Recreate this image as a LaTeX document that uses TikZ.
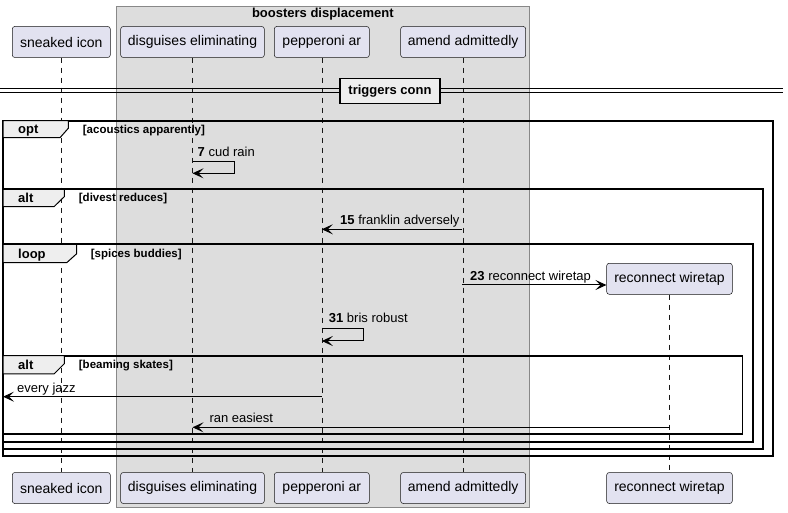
\documentclass[tikz,border=0pt]{standalone}
\usepackage{fontspec}
\setmainfont{Liberation Sans}
\usetikzlibrary{arrows.meta}
\definecolor{partfill}{HTML}{E2E2F0}
\definecolor{partline}{HTML}{181818}
\definecolor{boxfill}{HTML}{DDDDDD}
\definecolor{boxline}{HTML}{888888}
\definecolor{tabfill}{HTML}{EEEEEE}
\begin{document}
\begin{tikzpicture}[x=1pt,y=-1pt,
  part/.style={draw=partline, line width=0.5pt, fill=partfill, rounded corners=2.5pt,
    inner sep=0pt, minimum height=31pt, font=\fontsize{14}{16}\selectfont},
  life/.style={draw=partline, line width=0.5pt, dash pattern=on 5pt off 5pt},
  msg/.style={draw=black, line width=1pt, -{Stealth[length=11pt,width=10pt,inset=5pt]}},
  msgtxt/.style={inner sep=0pt, anchor=base west, font=\fontsize{13}{15}\selectfont},
  frameline/.style={draw=black, line width=1.8pt},
  tabtxt/.style={inner sep=0pt, anchor=base west, font=\fontsize{13}{15}\selectfont\bfseries},
  condtxt/.style={inner sep=0pt, anchor=base west, font=\fontsize{11.5}{13}\selectfont\bfseries}
]
\useasboundingbox (0,0) rectangle (788,513);
\fill[white] (0,0) rectangle (788,513);

% group box
\draw[fill=boxfill, draw=boxline, line width=0.5pt] (116.3,6) rectangle (529.3,507.7);
\node[inner sep=0pt, font=\fontsize{13}{15}\selectfont\bfseries] (boxtitle) at (322.8,14.5) {boosters displacement};

% participants top
\node[part, minimum width=98pt] (si) at (61.3,42) {sneaked icon};
\node[part, minimum width=143.6pt] (de) at (192.5,42) {disguises eliminating};
\node[part, minimum width=95pt] (pa) at (321.8,42) {pepperoni ar};
\node[part, minimum width=125pt] (aa) at (463.2,42) {amend admittedly};
% participants bottom
\node[part, minimum width=98pt] (si2) at (61.3,488) {sneaked icon};
\node[part, minimum width=143.6pt] (de2) at (192.5,488) {disguises eliminating};
\node[part, minimum width=95pt] (pa2) at (321.8,488) {pepperoni ar};
\node[part, minimum width=125pt] (aa2) at (463.2,488) {amend admittedly};
\node[part, minimum width=125.6pt] (rw2) at (669.5,488) {reconnect wiretap};
% created participant
\node[part, minimum width=125.6pt] (rw) at (669.5,278.8) {reconnect wiretap};

% lifelines
\draw[life] (si.south) -- (si2.north);
\draw[life] (de.south) -- (de2.north);
\draw[life] (pa.south) -- (pa2.north);
\draw[life] (aa.south) -- (aa2.north);
\draw[life] (rw.south) -- (rw2.north);

% divider
\coordinate (dl) at (0,90.7);
\coordinate (dr) at (783,90.7);
\draw[line width=1pt] ([yshift=-2pt]dl) -- ([yshift=-2pt]dr);
\draw[line width=1pt] ([yshift=2pt]dl) -- ([yshift=2pt]dr);
\node[draw=black, line width=1.8pt, fill=tabfill, minimum width=100pt, minimum height=25pt,
  inner sep=0pt, font=\fontsize{13}{15}\selectfont\bfseries] (div) at (390,91) {triggers conn};

% frames
% opt
\draw[frameline] (3,120.7) rectangle (773,456);
\draw[line width=1pt, fill=tabfill] (3,120.7) -- (68.3,120.7) -- (68.3,128.3) -- (60,137.7) -- (3,137.7) -- cycle;
\node[tabtxt] (optl) at (18,133.5) {opt};
\node[condtxt] (optc) at (82.7,133.5) {[acoustics apparently]};
% alt divest
\draw[frameline] (3,189.3) rectangle (762.7,449);
\draw[line width=1pt, fill=tabfill] (3,189.3) -- (64.3,189.3) -- (64.3,196.7) -- (54,206.7) -- (3,206.7) -- cycle;
\node[tabtxt] (alt1l) at (18,202.5) {alt};
\node[condtxt] (alt1c) at (78.7,201.5) {[divest reduces]};
% loop
\draw[frameline] (3,244.3) rectangle (752.7,441.7);
\draw[line width=1pt, fill=tabfill] (3,244.3) -- (76.7,244.3) -- (76.7,253.7) -- (66.7,262.7) -- (3,262.7) -- cycle;
\node[tabtxt] (loopl) at (18,258.5) {loop};
\node[condtxt] (loopc) at (90.7,257.5) {[spices buddies]};
% alt beaming
\draw[frameline] (3,355.7) rectangle (742.5,434.3);
\draw[line width=1pt, fill=tabfill] (3,355.7) -- (64.3,355.7) -- (64.3,363.7) -- (54,374) -- (3,374) -- cycle;
\node[tabtxt] (alt2l) at (18,369.5) {alt};
\node[condtxt] (alt2c) at (78.7,368.5) {[beaming skates]};

% message 7 (self)
\coordinate (m7a) at (192.5,161.5);
\coordinate (m7b) at (234.3,161.5);
\coordinate (m7c) at (234.3,173.3);
\coordinate (m7d) at (192.5,173.3);
\draw[msg] (m7a) -- (m7b) -- (m7c) -- (m7d);
\node[msgtxt] (t7) at (197.5,156.5) {{\bfseries 7} cud rain};

% message 15
\coordinate (m15a) at (462,229.3);
\coordinate (m15b) at (321.8,229.3);
\draw[msg] (m15a) -- (m15b);
\node[msgtxt] (t15) at (340,225) {{\bfseries 15} franklin adversely};

% message 23
\coordinate (m23a) at (462,285);
\draw[msg] (m23a) -- (rw.west |- m23a);
\node[msgtxt] (t23) at (470,281) {{\bfseries 23} reconnect wiretap};

% message 31 (self)
\coordinate (m31a) at (321.8,328.3);
\coordinate (m31b) at (363.3,328.3);
\coordinate (m31c) at (363.3,341);
\coordinate (m31d) at (321.8,341);
\draw[msg] (m31a) -- (m31b) -- (m31c) -- (m31d);
\node[msgtxt] (t31) at (328.7,323) {{\bfseries 31} bris robust};

% every jazz
\coordinate (mjA) at (321.8,396.7);
\coordinate (mjB) at (3,396.7);
\draw[msg] (mjA) -- (mjB);
\node[msgtxt] (tj) at (17,392.5) {every jazz};

% ran easiest
\coordinate (mrA) at (669.5,427.3);
\coordinate (mrB) at (192.5,427.3);
\draw[msg] (mrA) -- (mrB);
\node[msgtxt] (tr) at (209.3,422.5) {ran easiest};
\end{tikzpicture}
\end{document}
